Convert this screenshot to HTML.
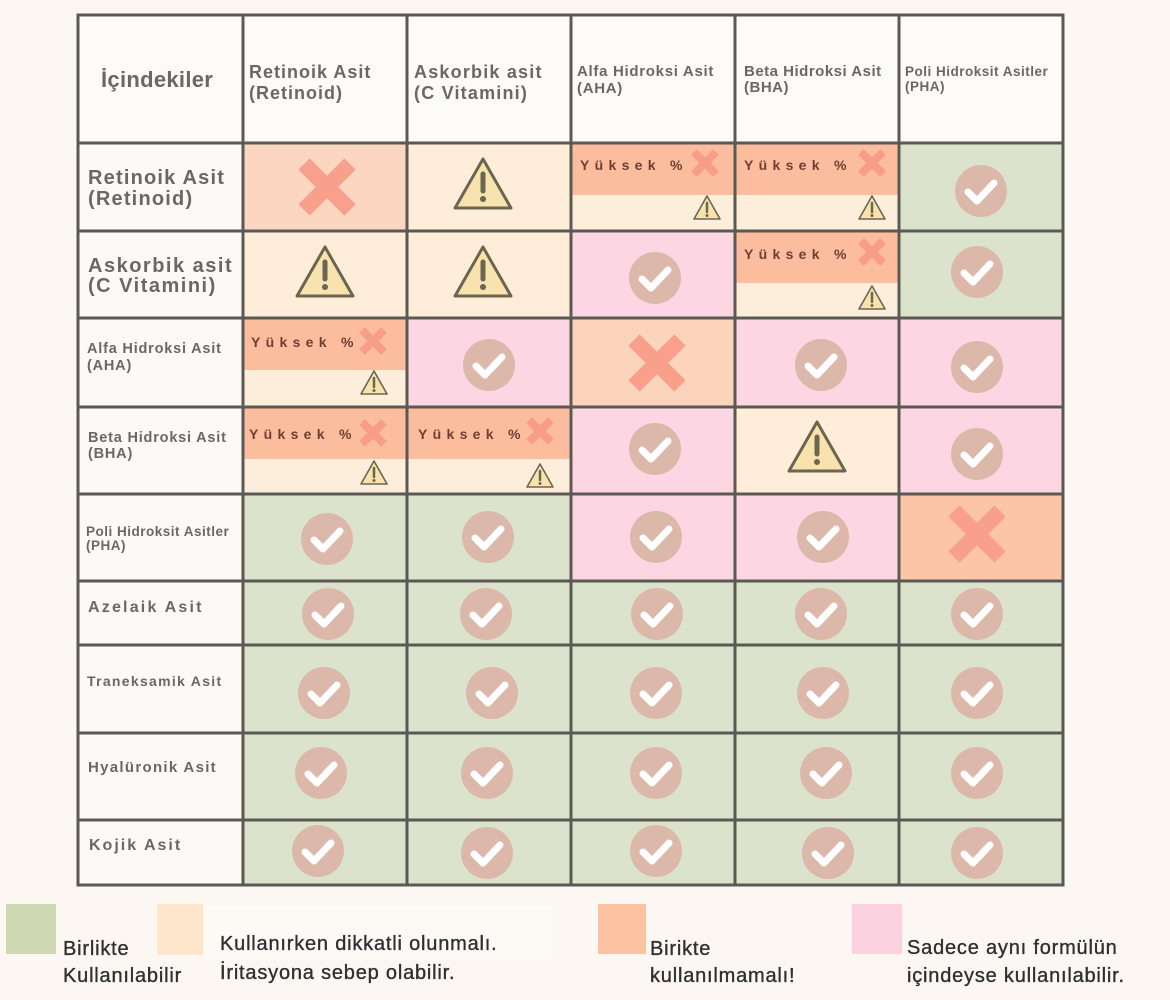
<!DOCTYPE html>
<html><head><meta charset="utf-8"><style>
html,body{margin:0;padding:0;background:#fcf7f2;}
svg{display:block;}
.lb{font-family:"Liberation Sans",sans-serif;font-weight:bold;fill:#6b6763;}
.yk{font-family:"Liberation Sans",sans-serif;font-weight:bold;fill:#6e3f30;font-size:14px;letter-spacing:5.3px;}
.lg{font-family:"Liberation Sans",sans-serif;fill:#2f2f2f;font-size:20px;letter-spacing:0.8px;stroke:#2f2f2f;stroke-width:0.35px;}
</style></head><body>
<svg width="1170" height="1000" viewBox="0 0 1170 1000" xmlns="http://www.w3.org/2000/svg">
<defs>
<symbol id="ck" viewBox="-30 -30 60 60" overflow="visible"><circle r="26" fill="#dcb8aa"/><path d="M-13,1 L-4,10 L13,-8" stroke="#fff" stroke-width="7" stroke-linecap="round" stroke-linejoin="round" fill="none"/></symbol>
<symbol id="bx" viewBox="-30 -30 60 60" overflow="visible"><path d="M-23,-23 L23,23 M23,-23 L-23,23" stroke="#f9a08c" stroke-width="16"/></symbol>
<symbol id="wn" viewBox="-30 -30 60 60" overflow="visible"><path d="M0,-25 L28,24 L-28,24 Z" fill="#f8e3ae" stroke="#6b6652" stroke-width="3" stroke-linejoin="round"/><path d="M0,-10 L0,7" stroke="#6b6652" stroke-width="5" stroke-linecap="round"/><circle cx="0" cy="15" r="3" fill="#6b6652"/></symbol>
<symbol id="sx" viewBox="-15 -15 30 30" overflow="visible"><path d="M-11,-11 L11,11 M11,-11 L-11,11" stroke="#f79a86" stroke-width="8" opacity="0.9"/></symbol>
<symbol id="sw" viewBox="-15 -15 30 30" overflow="visible"><path d="M0,-12 L13,11 L-13,11 Z" fill="#f8e3ae" stroke="#6b6652" stroke-width="1.6" stroke-linejoin="round"/><path d="M0,-5 L0,4" stroke="#6b6652" stroke-width="2.5" stroke-linecap="round"/><circle cx="0" cy="7.5" r="1.5" fill="#6b6652"/></symbol>
</defs>
<rect width="1170" height="1000" fill="#fcf7f2"/>
<rect x="78" y="15" width="985" height="128" fill="#fdfbf8"/>
<rect x="78" y="143" width="165" height="742" fill="#fdf9f6"/>

<rect x="243" y="143" width="164" height="88" fill="#fdd6c1"/>
<rect x="407" y="143" width="164" height="88" fill="#fdedd9"/>
<rect x="571" y="143" width="164" height="88" fill="#fdeedc"/><rect x="571" y="143" width="164" height="52" fill="#fcbd9f"/>
<rect x="735" y="143" width="164" height="88" fill="#fdeedc"/><rect x="735" y="143" width="164" height="52" fill="#fcbd9f"/>
<rect x="899" y="143" width="164" height="88" fill="#dce3cc"/>
<rect x="243" y="231" width="164" height="87" fill="#fdedd9"/>
<rect x="407" y="231" width="164" height="87" fill="#fdedd9"/>
<rect x="571" y="231" width="164" height="87" fill="#fdd6e3"/>
<rect x="735" y="231" width="164" height="87" fill="#fdeedc"/><rect x="735" y="231" width="164" height="52" fill="#fcbd9f"/>
<rect x="899" y="231" width="164" height="87" fill="#dce3cc"/>
<rect x="243" y="318" width="164" height="89" fill="#fdeedc"/><rect x="243" y="318" width="164" height="52" fill="#fcbd9f"/>
<rect x="407" y="318" width="164" height="89" fill="#fdd6e3"/>
<rect x="571" y="318" width="164" height="89" fill="#fcd3bb"/>
<rect x="735" y="318" width="164" height="89" fill="#fdd6e3"/>
<rect x="899" y="318" width="164" height="89" fill="#fdd6e3"/>
<rect x="243" y="407" width="164" height="87" fill="#fdeedc"/><rect x="243" y="407" width="164" height="52" fill="#fcbd9f"/>
<rect x="407" y="407" width="164" height="87" fill="#fdeedc"/><rect x="407" y="407" width="164" height="52" fill="#fcbd9f"/>
<rect x="571" y="407" width="164" height="87" fill="#fdd6e3"/>
<rect x="735" y="407" width="164" height="87" fill="#fdedd9"/>
<rect x="899" y="407" width="164" height="87" fill="#fdd6e3"/>
<rect x="243" y="494" width="164" height="87" fill="#dce3cc"/>
<rect x="407" y="494" width="164" height="87" fill="#dce3cc"/>
<rect x="571" y="494" width="164" height="87" fill="#fdd6e3"/>
<rect x="735" y="494" width="164" height="87" fill="#fdd6e3"/>
<rect x="899" y="494" width="164" height="87" fill="#fcc5a8"/>
<rect x="243" y="581" width="820" height="304" fill="#dce3cc"/>

<use href="#bx" x="297" y="157" width="60" height="60"/>
<use href="#wn" x="453" y="154" width="60" height="60"/>
<use href="#ck" x="951" y="161" width="60" height="60"/>

<use href="#wn" x="295" y="242" width="60" height="60"/>
<use href="#wn" x="453" y="242" width="60" height="60"/>
<use href="#ck" x="625" y="248" width="60" height="60"/>
<use href="#ck" x="947" y="242" width="60" height="60"/>

<use href="#ck" x="459" y="335" width="60" height="60"/>
<use href="#bx" x="627" y="333" width="60" height="60"/>
<use href="#ck" x="791" y="335" width="60" height="60"/>
<use href="#ck" x="947" y="337" width="60" height="60"/>

<use href="#ck" x="625" y="419" width="60" height="60"/>
<use href="#wn" x="787" y="417" width="60" height="60"/>
<use href="#ck" x="947" y="424" width="60" height="60"/>

<use href="#ck" x="297" y="509" width="60" height="60"/>
<use href="#ck" x="458" y="507" width="60" height="60"/>
<use href="#ck" x="626" y="507" width="60" height="60"/>
<use href="#ck" x="793" y="507" width="60" height="60"/>
<use href="#bx" x="947" y="504" width="60" height="60"/>

<use href="#ck" x="298" y="584" width="60" height="60"/><use href="#ck" x="456" y="584" width="60" height="60"/><use href="#ck" x="627" y="584" width="60" height="60"/><use href="#ck" x="791" y="584" width="60" height="60"/><use href="#ck" x="947" y="584" width="60" height="60"/>
<use href="#ck" x="294" y="663" width="60" height="60"/><use href="#ck" x="462" y="663" width="60" height="60"/><use href="#ck" x="626" y="663" width="60" height="60"/><use href="#ck" x="793" y="663" width="60" height="60"/><use href="#ck" x="947" y="663" width="60" height="60"/>
<use href="#ck" x="291" y="743" width="60" height="60"/><use href="#ck" x="457" y="743" width="60" height="60"/><use href="#ck" x="626" y="743" width="60" height="60"/><use href="#ck" x="796" y="743" width="60" height="60"/><use href="#ck" x="947" y="743" width="60" height="60"/>
<use href="#ck" x="288" y="821" width="60" height="60"/><use href="#ck" x="457" y="823" width="60" height="60"/><use href="#ck" x="626" y="821" width="60" height="60"/><use href="#ck" x="798" y="823" width="60" height="60"/><use href="#ck" x="947" y="823" width="60" height="60"/>

<g>
<text class="yk" x="580" y="170">Yüksek %</text><use href="#sx" x="690" y="148" width="30" height="30"/><use href="#sw" x="692" y="193" width="30" height="30"/>
<text class="yk" x="744" y="170">Yüksek %</text><use href="#sx" x="857" y="148" width="30" height="30"/><use href="#sw" x="857" y="193" width="30" height="30"/>
<text class="yk" x="744" y="259">Yüksek %</text><use href="#sx" x="857" y="237" width="30" height="30"/><use href="#sw" x="857" y="283" width="30" height="30"/>
<text class="yk" x="251" y="347">Yüksek %</text><use href="#sx" x="358" y="326" width="30" height="30"/><use href="#sw" x="359" y="368" width="30" height="30"/>
<text class="yk" x="249" y="439">Yüksek %</text><use href="#sx" x="358" y="418" width="30" height="30"/><use href="#sw" x="359" y="458" width="30" height="30"/>
<text class="yk" x="418" y="439">Yüksek %</text><use href="#sx" x="525" y="416" width="30" height="30"/><use href="#sw" x="525" y="461" width="30" height="30"/>
</g>

<g stroke="#5a5953" stroke-width="3" fill="none">
<rect x="78" y="15" width="985" height="870"/>
<path d="M243,15V885 M407,15V885 M571,15V885 M735,15V885 M899,15V885"/>
<path d="M78,143H1063 M78,231H1063 M78,318H1063 M78,407H1063 M78,494H1063 M78,581H1063 M78,645H1063 M78,733H1063 M78,820H1063"/>
</g>

<text class="lb" x="101" y="87" font-size="22" letter-spacing="0.3">İçindekiler</text>
<text class="lb" x="249" y="78" font-size="18" letter-spacing="1">Retinoik Asit</text>
<text class="lb" x="249" y="99" font-size="18" letter-spacing="1">(Retinoid)</text>
<text class="lb" x="414" y="78" font-size="18" letter-spacing="1.2">Askorbik asit</text>
<text class="lb" x="414" y="99" font-size="18" letter-spacing="1.2">(C Vitamini)</text>
<text class="lb" x="577" y="76" font-size="15" letter-spacing="0.7">Alfa Hidroksi Asit</text>
<text class="lb" x="577" y="93" font-size="15" letter-spacing="0.7">(AHA)</text>
<text class="lb" x="744" y="76" font-size="15" letter-spacing="0.5">Beta Hidroksi Asit</text>
<text class="lb" x="744" y="92" font-size="15" letter-spacing="0.5">(BHA)</text>
<text class="lb" x="905" y="76" font-size="13.5" letter-spacing="0.5">Poli Hidroksit Asitler</text>
<text class="lb" x="905" y="91" font-size="13.5" letter-spacing="0.5">(PHA)</text>

<text class="lb" x="88" y="184" font-size="20" letter-spacing="1.2">Retinoik Asit</text>
<text class="lb" x="88" y="205" font-size="20" letter-spacing="1.2">(Retinoid)</text>
<text class="lb" x="88" y="272" font-size="20" letter-spacing="1.5">Askorbik asit</text>
<text class="lb" x="88" y="292" font-size="20" letter-spacing="1.5">(C Vitamini)</text>
<text class="lb" x="87" y="353" font-size="14.5" letter-spacing="0.8">Alfa Hidroksi Asit</text>
<text class="lb" x="87" y="370" font-size="14.5" letter-spacing="0.8">(AHA)</text>
<text class="lb" x="88" y="442" font-size="14.5" letter-spacing="0.8">Beta Hidroksi Asit</text>
<text class="lb" x="88" y="458" font-size="14.5" letter-spacing="0.8">(BHA)</text>
<text class="lb" x="86" y="536" font-size="13.5" letter-spacing="0.5">Poli Hidroksit Asitler</text>
<text class="lb" x="86" y="550" font-size="13.5" letter-spacing="0.5">(PHA)</text>
<text class="lb" x="88" y="612" font-size="16" letter-spacing="2.2">Azelaik Asit</text>
<text class="lb" x="87" y="686" font-size="14" letter-spacing="1.3">Traneksamik Asit</text>
<text class="lb" x="88" y="772" font-size="15" letter-spacing="1.3">Hyalüronik Asit</text>
<text class="lb" x="89" y="850" font-size="16" letter-spacing="2">Kojik Asit</text>

<rect x="203" y="905" width="350" height="53" fill="#fdfaf6"/>
<rect x="6" y="904" width="50" height="50" fill="#cfdab5"/>
<text class="lg" x="63" y="955">Birlikte</text>
<text class="lg" x="63" y="982">Kullanılabilir</text>
<rect x="157" y="904" width="46" height="51" fill="#fde6cc"/>
<text class="lg" x="220" y="950">Kullanırken dikkatli olunmalı.</text>
<text class="lg" x="220" y="979">İritasyona sebep olabilir.</text>
<rect x="598" y="904" width="48" height="50" fill="#fcc3a3"/>
<text class="lg" x="650" y="955">Birikte</text>
<text class="lg" x="650" y="982">kullanılmamalı!</text>
<rect x="852" y="904" width="50" height="50" fill="#fdd2e0"/>
<text class="lg" x="907" y="954">Sadece aynı formülün</text>
<text class="lg" x="907" y="982">içindeyse kullanılabilir.</text>
</svg>
</body></html>
